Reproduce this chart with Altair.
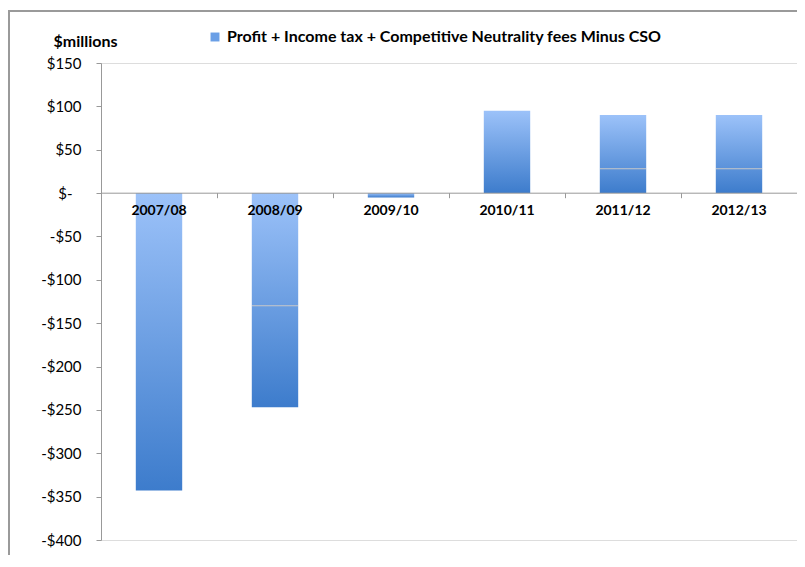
import altair as alt
import pandas as pd

years = ["2007/08", "2008/09", "2009/10", "2010/11", "2011/12", "2012/13"]
values = [-343, -247, -5, 95, 90, 90]
split_years = ["2008/09", "2011/12", "2012/13"]
split_values = [-130, 28, 28]
series = "Profit + Income tax + Competitive Neutrality fees Minus CSO"
y_ticks = [150, 100, 50, 0, -50, -100, -150, -200, -250, -300, -350, -400]

df = pd.DataFrame({"year": years, "value": values, "series": [series] * len(years)})
df_split = pd.DataFrame({"year": split_years, "value": split_values})

FONT = "Lato"
W, H = 696, 477

grad = alt.Gradient(
    gradient="linear",
    stops=[alt.GradientStop(color="#9cc2f9", offset=0),
           alt.GradientStop(color="#3d7ccc", offset=1)],
    x1=0, x2=0, y1=0, y2=1,
)

xenc = alt.X(
    "year:N", sort=years,
    scale=alt.Scale(paddingInner=0, paddingOuter=0),
    axis=alt.Axis(
        title=None, labelAngle=0, labelFont=FONT, labelFontSize=14,
        labelFontWeight="bold", labelColor="#000", offset=-(H - 129.7),
        domainColor="#999", tickColor="#999", tickSize=5, bandPosition=0,
        labelPadding=6, zindex=1,
    ),
)
yscale = alt.Scale(domain=[-400, 150], nice=False, zero=False)
yaxis = alt.Axis(
    values=y_ticks, title="$millions", titleAngle=0, titleFont=FONT,
    titleFontSize=16, titleFontWeight="bold", titleColor="#000",
    titleX=-16, titleY=-22, titleAlign="center", titleBaseline="middle",
    labelFont=FONT, labelFontSize=15, labelColor="#000",
    labelPadding={"condition": {"test": "datum.value === 0", "value": 24}, "value": 15},
    labelExpr="datum.value == 0 ? '$-' : (datum.value < 0 ? '-$' + abs(datum.value) : '$' + datum.value)",
    domainColor="#999", tickColor="#999", tickSize=5, grid=False,
)

frame = alt.Chart(pd.DataFrame({"a": [0]})).mark_rect(
    fill=None, stroke="#9a9a9a", strokeWidth=2
).encode(
    x=alt.value(-92), x2=alt.value(720), y=alt.value(-52), y2=alt.value(540)
)

bars = alt.Chart(df).mark_bar(
    fill=grad, width=alt.RelativeBandSize(0.4)
).encode(
    x=xenc,
    y=alt.Y("value:Q", scale=yscale, axis=yaxis),
)

legend_layer = alt.Chart(df).mark_square(size=80, opacity=0).encode(
    x=alt.X("year:N", sort=years),
    y=alt.Y("value:Q"),
    color=alt.Color(
        "series:N",
        scale=alt.Scale(range=["#6a9fe6"]),
        legend=alt.Legend(
            title=None, orient="none", legendX=106, legendY=-34,
            labelFont=FONT, labelFontSize=16, labelFontWeight="bold",
            labelColor="#000", symbolType="square", symbolSize=80,
            symbolOpacity=1, symbolStrokeWidth=0, labelLimit=700,
            symbolFillColor="#6a9fe6", labelOffset=4,
        ),
    ),
)

splits = alt.Chart(df_split).mark_tick(
    color="#c8c8c8", thickness=1, size=46, opacity=1
).encode(
    x=alt.X("year:N", sort=years),
    y=alt.Y("value:Q"),
)

chart = alt.layer(frame, bars, splits, legend_layer).properties(
    width=W, height=H,
    autosize=alt.AutoSizeParams(type="none"),
    padding={"left": 93, "top": 55, "right": 0, "bottom": 15},
).configure_view(stroke=None).configure(background="white")

chart.save("out.html", embed_options={"renderer": "svg", "actions": False})
